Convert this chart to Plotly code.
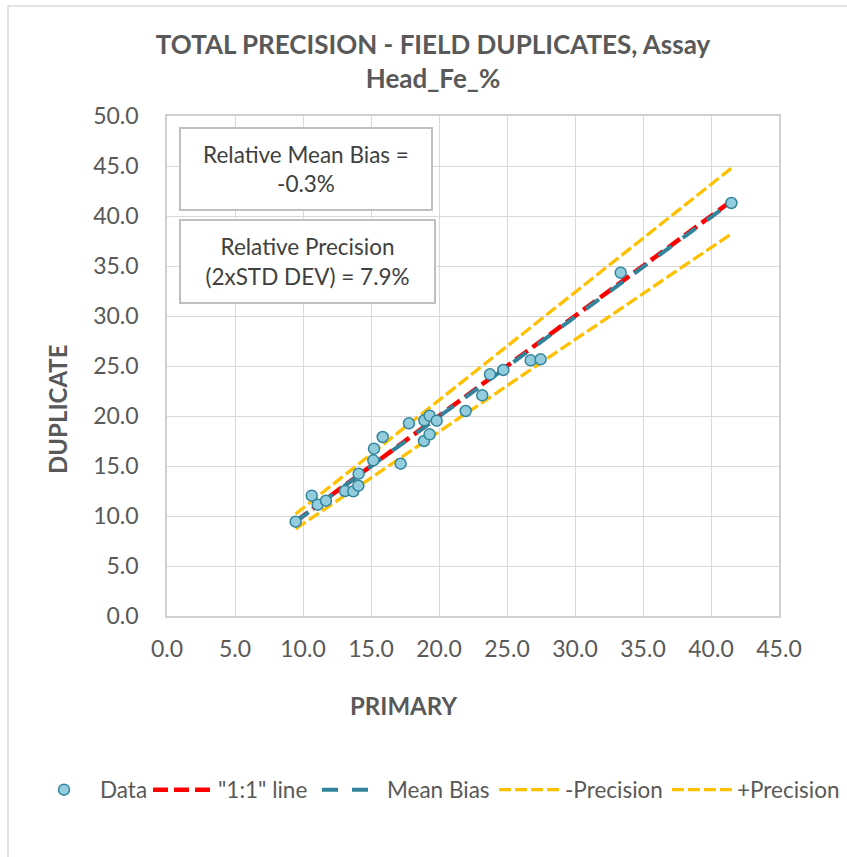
import plotly.graph_objects as go

# Field duplicate pairs, Head Fe %
primary = [9.46, 10.64, 11.08, 11.69, 13.09, 13.70, 14.07, 14.09, 15.17, 15.22,
           15.86, 17.18, 17.79, 18.90, 19.31, 18.92, 19.31, 19.83, 21.96, 23.18,
           23.75, 24.73, 26.74, 27.47, 33.36, 41.50]
duplicate = [9.43, 12.03, 11.13, 11.53, 12.50, 12.47, 13.03, 14.23, 15.57, 16.73,
             17.90, 15.23, 19.27, 17.50, 18.17, 19.57, 20.03, 19.53, 20.50, 22.07,
             24.17, 24.60, 25.57, 25.67, 34.33, 41.30]

rel_mean_bias = -0.003   # Relative Mean Bias = -0.3%
rel_precision = 0.079    # Relative Precision (2xSTD DEV) = 7.9%

x_ticks = [0, 5, 10, 15, 20, 25, 30, 35, 40, 45]
y_ticks = [0, 5, 10, 15, 20, 25, 30, 35, 40, 45, 50]

W, H = 847, 857
L, R, T, B = 167, 68, 116, 241
PW, PH = W - L - R, H - T - B

def px(x):
    return (x - L) / PW

def py(y):
    return (H - B - y) / PH

FONT = "Lato"
GREY = "#595959"

x_line = [min(primary), max(primary)]

fig = go.Figure()
fig.add_trace(go.Scatter(
    x=x_line, y=x_line, mode="lines", name='"1:1" line', legend="legend2",
    line=dict(color="#ff0000", width=4.5, dash="15px,6px")))
fig.add_trace(go.Scatter(
    x=x_line, y=[v * (1 + rel_mean_bias) for v in x_line], mode="lines",
    name="Mean Bias", legend="legend3",
    line=dict(color="#31849b", width=4, dash="16px,14px")))
fig.add_trace(go.Scatter(
    x=x_line, y=[v * (1 - rel_precision) for v in x_line], mode="lines",
    name="-Precision", legend="legend4",
    line=dict(color="#ffc000", width=3.3, dash="12px,4px")))
fig.add_trace(go.Scatter(
    x=x_line, y=[v * (1 + rel_precision) for v in x_line], mode="lines",
    name="+Precision", legend="legend5",
    line=dict(color="#ffc000", width=3.3, dash="12px,4px")))
fig.add_trace(go.Scatter(
    x=primary, y=duplicate, mode="markers", name="Data", legend="legend",
    marker=dict(size=11, color="#93cddd", line=dict(color="#31859c", width=1.5))))

axis_common = dict(
    showgrid=True, gridcolor="#d9d9d9", gridwidth=1,
    showline=True, linecolor="#d0d0d0", linewidth=1.5, mirror=True,
    zeroline=False, tickformat=".1f", ticks="",
    tickfont=dict(family=FONT, size=23, color=GREY),
)

legend_font = dict(family=FONT, size=22.5, color=GREY)

def legend_at(left, item_width):
    return dict(orientation="h", xref="container", x=left / W, xanchor="left",
                yref="container", y=1 - 790 / H, yanchor="middle",
                font=legend_font, itemwidth=item_width, bgcolor="rgba(0,0,0,0)")

fig.update_layout(
    width=W, height=H,
    margin=dict(l=L, r=R, t=T, b=B),
    paper_bgcolor="white", plot_bgcolor="white",
    showlegend=True,
    title=dict(
        text="<b>TOTAL PRECISION - FIELD DUPLICATES, Assay<br>Head_Fe_%</b>",
        x=433 / W, xref="container", xanchor="center",
        y=1 - 54 / H, yref="container", yanchor="middle",
        font=dict(family=FONT, size=26, color=GREY)),
    xaxis=dict(axis_common, range=[0, 45], tickvals=x_ticks,
               ticklabelstandoff=12),
    yaxis=dict(axis_common, range=[0, 50], tickvals=y_ticks,
               ticklabelstandoff=22),
    legend=legend_at(28, 62),
    legend2=legend_at(148, 60),
    legend3=legend_at(317, 60),
    legend4=legend_at(494, 61),
    legend5=legend_at(667, 60),
)

# Axis titles
title_font = dict(family=FONT, size=24, color=GREY)
fig.add_annotation(text="<b>PRIMARY</b>", xref="paper", yref="paper",
                   x=px(403), y=py(705), xanchor="center", yanchor="middle",
                   showarrow=False, font=title_font)
fig.add_annotation(text="<b>DUPLICATE</b>", xref="paper", yref="paper",
                   x=px(57), y=py(409), xanchor="center", yanchor="middle",
                   textangle=-90, showarrow=False, font=title_font)

# Summary statistics boxes
box_font = dict(family=FONT, size=22.5, color="#404040")
fig.add_annotation(
    text=f"Relative Mean Bias =<br>{rel_mean_bias * 100:.1f}%",
    xref="paper", yref="paper", x=px(306), y=py(169),
    xanchor="center", yanchor="middle", showarrow=False,
    width=250, height=80, bgcolor="white",
    bordercolor="#bfbfbf", borderwidth=2, borderpad=0, font=box_font)
fig.add_annotation(
    text=f"Relative Precision<br>(2xSTD DEV) = {rel_precision * 100:.1f}%",
    xref="paper", yref="paper", x=px(307.5), y=py(261.5),
    xanchor="center", yanchor="middle", showarrow=False,
    width=253, height=81, bgcolor="white",
    bordercolor="#bfbfbf", borderwidth=2, borderpad=0, font=box_font)

# Chart area frame
fig.add_shape(type="rect", xref="paper", yref="paper",
              x0=px(8), x1=px(W + 20), y0=py(H + 20), y1=py(6),
              line=dict(color="#d9d9d9", width=1.5), layer="below")

fig.write_html("out.html")
